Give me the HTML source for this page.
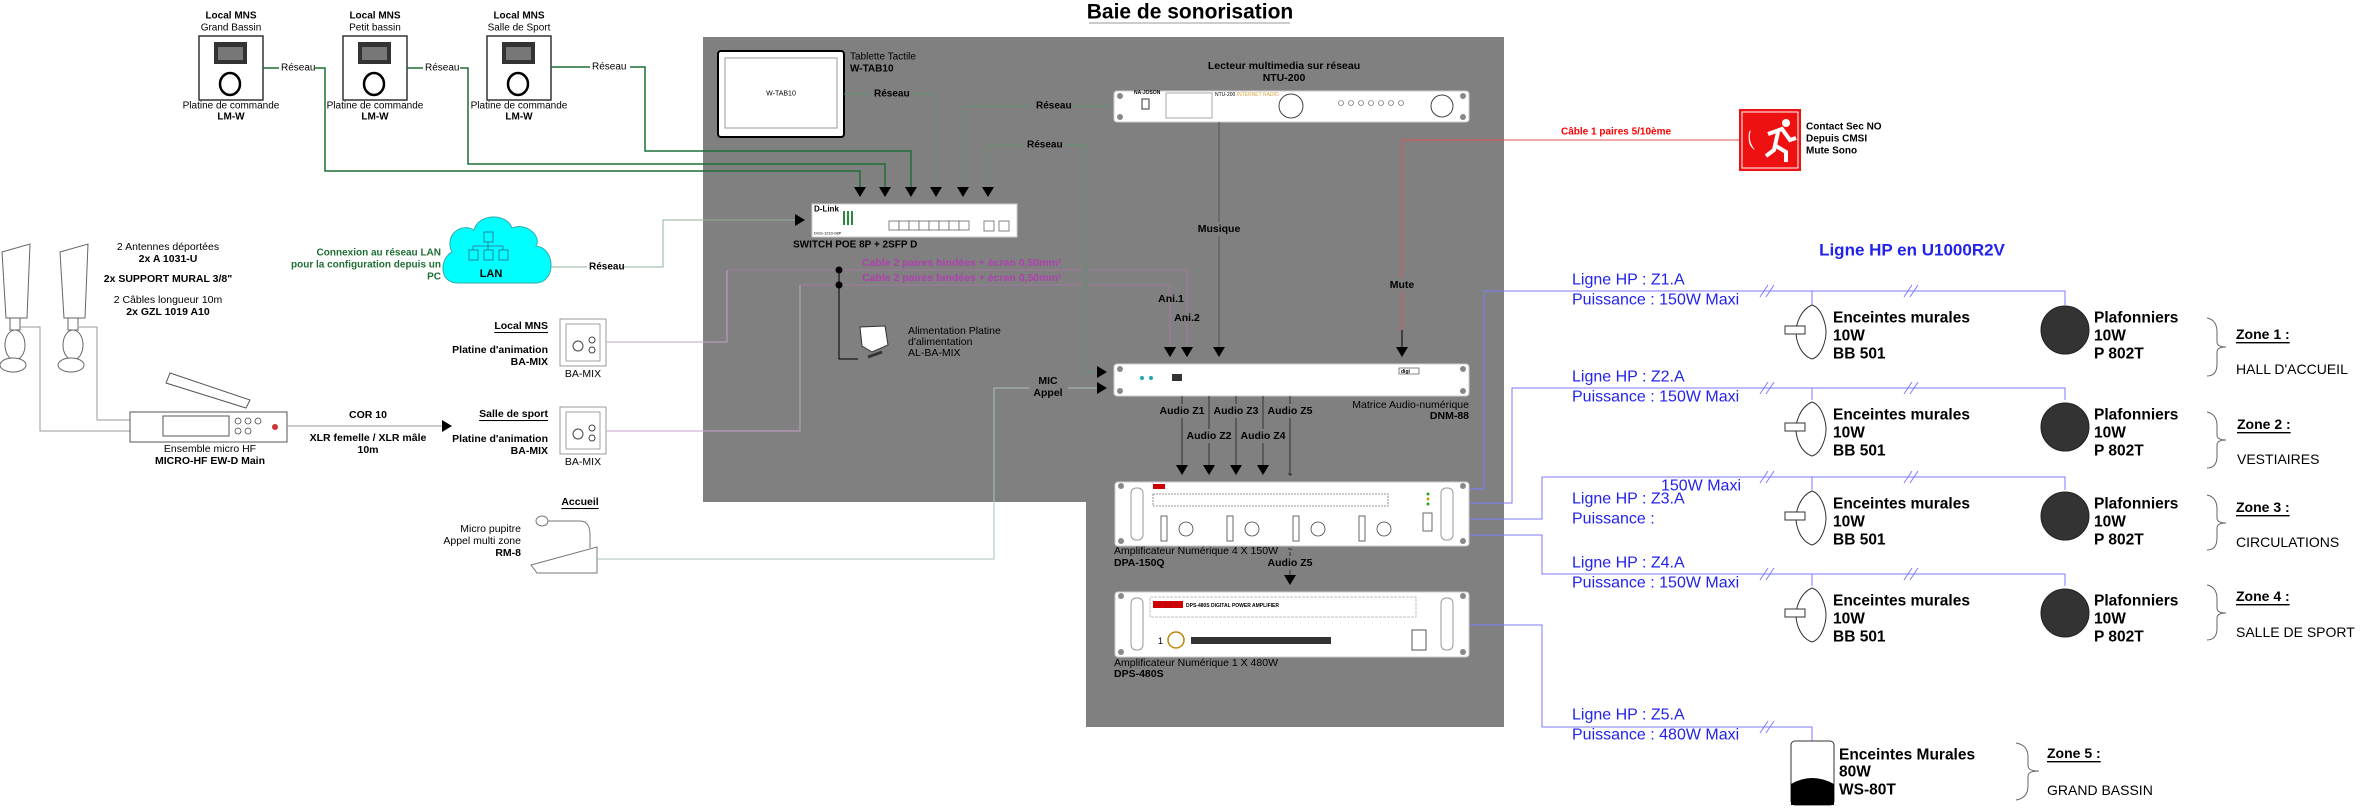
<!DOCTYPE html>
<html><head><meta charset="utf-8"><style>
html,body{margin:0;padding:0;background:#fff;}
svg{display:block;font-family:"Liberation Sans",Arial,sans-serif;}
</style></head><body>
<svg width="2367" height="808" viewBox="0 0 2367 808" xmlns="http://www.w3.org/2000/svg">
<defs>
<marker id="ar" markerWidth="10" markerHeight="16" refX="9" refY="8" orient="auto" markerUnits="userSpaceOnUse"><path d="M0,2 L10,8 L0,14 Z" fill="#000"/></marker>
</defs>
<!-- panel -->
<path d="M703,37 H1504 V727 H1086 V502 H703 Z" fill="#808080"/>
<!-- title -->
<text x="1190" y="12" font-size="21" font-weight="bold" text-anchor="middle" dominant-baseline="central">Baie de sonorisation</text>
<line x1="1089" y1="23" x2="1290" y2="23" stroke="#999" stroke-width="1"/>

<!-- LM-W boxes -->
<g font-size="10" text-anchor="middle" dominant-baseline="central">
<g>
<text x="231" y="16" font-weight="bold">Local MNS</text><text x="231" y="28">Grand Bassin</text>
<rect x="199" y="36" width="64" height="64" fill="#fff" stroke="#333" stroke-width="1.5"/>
<rect x="214" y="42" width="33" height="22" fill="#333"/><rect x="218" y="47" width="25" height="13" fill="#777"/>
<ellipse cx="230" cy="84" rx="10" ry="11" fill="none" stroke="#000" stroke-width="2.5"/>
<text x="231" y="106">Platine de commande</text><text x="231" y="117" font-weight="bold">LM-W</text>
</g>
<g>
<text x="375" y="16" font-weight="bold">Local MNS</text><text x="375" y="28">Petit bassin</text>
<rect x="343" y="36" width="64" height="64" fill="#fff" stroke="#333" stroke-width="1.5"/>
<rect x="358" y="42" width="33" height="22" fill="#333"/><rect x="362" y="47" width="25" height="13" fill="#777"/>
<ellipse cx="374" cy="84" rx="10" ry="11" fill="none" stroke="#000" stroke-width="2.5"/>
<text x="375" y="106">Platine de commande</text><text x="375" y="117" font-weight="bold">LM-W</text>
</g>
<g>
<text x="519" y="16" font-weight="bold">Local MNS</text><text x="519" y="28">Salle de Sport</text>
<rect x="487" y="36" width="64" height="64" fill="#fff" stroke="#333" stroke-width="1.5"/>
<rect x="502" y="42" width="33" height="22" fill="#333"/><rect x="506" y="47" width="25" height="13" fill="#777"/>
<ellipse cx="518" cy="84" rx="10" ry="11" fill="none" stroke="#000" stroke-width="2.5"/>
<text x="519" y="106">Platine de commande</text><text x="519" y="117" font-weight="bold">LM-W</text>
</g>
</g>
<!-- green network lines from LM-W -->
<g fill="none" stroke="#1f6e35" stroke-width="1.5">
<path d="M263,68 H279 M315,68 H325 V171 H860 V196" marker-end="url(#ar)"/>
<path d="M407,68 H423 M460,68 H468 V164 H885 V196" marker-end="url(#ar)"/>
<path d="M551,67 H590 M630,67 H645 V151 H911 V196" marker-end="url(#ar)"/>
</g>
<g font-size="10" dominant-baseline="central"><text x="281" y="68">Réseau</text><text x="425" y="68">Réseau</text><text x="592" y="67">Réseau</text></g>

<!-- tablet -->
<rect x="718" y="51" width="126" height="86" rx="3" fill="#fff" stroke="#000" stroke-width="2"/>
<rect x="725" y="58" width="112" height="70" fill="#fff" stroke="#999"/>
<text x="781" y="94" font-size="7" text-anchor="middle" dominant-baseline="central">W-TAB10</text>
<text x="850" y="57" font-size="10" dominant-baseline="central">Tablette Tactile</text>
<text x="850" y="69" font-size="10" font-weight="bold" dominant-baseline="central">W-TAB10</text>

<!-- inner network lines -->
<g fill="none" stroke="#5f8f6f" stroke-width="1">
<path d="M844,94 H872 M910,94 H936 V196" marker-end="url(#ar)"/>
<path d="M1114,106 H1073 M1034,106 H963 V196" marker-end="url(#ar)"/>
<path d="M988,196 V145 H1025 M1062,145 H1085 V372 H1106" marker-end="url(#ar)"/>
<path d="M551,267 H587 M624,267 H663 V220 H804" marker-end="url(#ar)" stroke="#8fb09a"/>
</g>
<path d="M988,145 V196" stroke="#5f8f6f" marker-end="url(#ar)"/>
<g font-size="10" font-weight="bold" dominant-baseline="central">
<text x="874" y="94">Réseau</text><text x="1036" y="106">Réseau</text><text x="1027" y="145">Réseau</text>
</g>
<text x="589" y="267" font-size="10" font-weight="bold" dominant-baseline="central">Réseau</text>

<!-- switch -->
<rect x="812" y="204" width="205" height="33" fill="#fff" stroke="#ccc"/>
<text x="814" y="209" font-size="8" font-weight="bold" dominant-baseline="central">D-Link</text>
<text x="814" y="233" font-size="4" dominant-baseline="central">DGS-1210-08P</text>
<g fill="#2a8a3a"><rect x="843" y="211" width="2" height="14"/><rect x="847" y="211" width="2" height="14"/><rect x="851" y="211" width="2" height="14"/></g>
<g fill="#fff" stroke="#666" stroke-width="0.8">
<rect x="889" y="221" width="10" height="9"/><rect x="899" y="221" width="10" height="9"/><rect x="909" y="221" width="10" height="9"/><rect x="919" y="221" width="10" height="9"/><rect x="929" y="221" width="10" height="9"/><rect x="939" y="221" width="10" height="9"/><rect x="949" y="221" width="10" height="9"/><rect x="959" y="221" width="10" height="9"/>
<rect x="984" y="221" width="10" height="10"/><rect x="999" y="221" width="10" height="10"/>
</g>
<text x="793" y="245" font-size="10" font-weight="bold" dominant-baseline="central">SWITCH POE 8P + 2SFP D</text>

<!-- cloud LAN -->
<path d="M458,283 C438,283 440,258 452,252 C444,236 460,222 474,230 C478,214 506,212 512,228 C526,222 542,236 536,246 C556,248 556,283 536,283 Z" fill="#00ffff" stroke="#3aa" stroke-width="1"/>
<g fill="none" stroke="#368" stroke-width="0.8"><rect x="484" y="232" width="9" height="10"/><path d="M488,242 V246 M473,246 H503 M473,246 V250 M488,246 V250 M503,246 V250"/><rect x="469" y="250" width="9" height="10"/><rect x="484" y="250" width="9" height="10"/><rect x="499" y="250" width="9" height="10"/></g>
<text x="491" y="274" font-size="11" font-weight="bold" text-anchor="middle" dominant-baseline="central">LAN</text>
<g font-size="10" font-weight="bold" fill="#1f6e35" text-anchor="end" dominant-baseline="central">
<text x="441" y="253">Connexion au réseau LAN</text><text x="441" y="265">pour la configuration depuis un</text><text x="441" y="277">PC</text>
</g>

<!-- antennas text -->
<g font-size="10.5" text-anchor="middle" dominant-baseline="central">
<text x="168" y="247">2 Antennes déportées</text><text x="168" y="259" font-weight="bold">2x A 1031-U</text>
<text x="168" y="279" font-weight="bold">2x SUPPORT MURAL 3/8"</text>
<text x="168" y="300">2 Câbles longueur 10m</text><text x="168" y="312" font-weight="bold">2x GZL 1019 A10</text>
</g>
<!-- antennas -->
<g fill="#fff" stroke="#666" stroke-width="1">
<path d="M2,252 L30,244 L27,318 L6,318 Z"/><path d="M60,252 L88,244 L85,318 L64,318 Z"/>
<ellipse cx="15" cy="345" rx="10" ry="15"/><ellipse cx="73" cy="345" rx="10" ry="15"/>
<ellipse cx="13" cy="365" rx="13" ry="7"/><ellipse cx="71" cy="365" rx="13" ry="7"/>
<rect x="10" y="318" width="10" height="12"/><rect x="68" y="318" width="10" height="12"/>
</g>
<g fill="none" stroke="#999" stroke-width="1"><path d="M20,327 H40 V431 H130"/><path d="M79,327 H97 V420 H130"/></g>
<!-- receiver -->
<rect x="130" y="412" width="157" height="30" fill="#fff" stroke="#555"/>
<rect x="163" y="416" width="66" height="20" fill="#fff" stroke="#555"/>
<g fill="none" stroke="#444" stroke-width="0.8"><circle cx="238" cy="421" r="3"/><circle cx="248" cy="421" r="3"/><circle cx="258" cy="421" r="3"/><circle cx="238" cy="431" r="3"/><circle cx="248" cy="431" r="3"/></g>
<circle cx="275" cy="427" r="3" fill="#c33"/>
<path d="M170,373 L250,400 L246,408 L166,383 Z" fill="#fff" stroke="#555"/>
<g font-size="10.5" text-anchor="middle" dominant-baseline="central"><text x="210" y="449">Ensemble micro HF</text><text x="210" y="461" font-weight="bold">MICRO-HF EW-D Main</text></g>
<!-- COR 10 -->
<path d="M287,426 H451" stroke="#999" fill="none" marker-end="url(#ar)"/>
<g font-size="10.5" text-anchor="middle" dominant-baseline="central"><text x="368" y="415" font-weight="bold">COR 10</text><text x="368" y="438" font-weight="bold">XLR femelle / XLR mâle</text><text x="368" y="450" font-weight="bold">10m</text></g>

<!-- BA-MIX -->
<g>
<rect x="560" y="319" width="46" height="47" fill="#fff" stroke="#999"/>
<rect x="566" y="324" width="34" height="37" fill="#fff" stroke="#666" stroke-width="0.6"/>
<circle cx="578" cy="346" r="5" fill="none" stroke="#444"/><circle cx="592" cy="340" r="3" fill="none" stroke="#444"/><circle cx="592" cy="350" r="3" fill="none" stroke="#444"/>
<rect x="560" y="407" width="46" height="47" fill="#fff" stroke="#999"/>
<rect x="566" y="412" width="34" height="37" fill="#fff" stroke="#666" stroke-width="0.6"/>
<circle cx="578" cy="434" r="5" fill="none" stroke="#444"/><circle cx="592" cy="428" r="3" fill="none" stroke="#444"/><circle cx="592" cy="438" r="3" fill="none" stroke="#444"/>
</g>
<g font-size="10.5" dominant-baseline="central">
<text x="583" y="374" text-anchor="middle">BA-MIX</text><text x="583" y="462" text-anchor="middle">BA-MIX</text>
<g text-anchor="end" font-weight="bold">
<text x="548" y="326" text-decoration="underline">Local MNS</text><text x="548" y="350">Platine d'animation</text><text x="548" y="362">BA-MIX</text>
<text x="548" y="414" text-decoration="underline">Salle de sport</text><text x="548" y="439">Platine d'animation</text><text x="548" y="451">BA-MIX</text>
</g>
</g>
<!-- pink lines -->
<g fill="none" stroke="#c9a0c9" stroke-width="1"><path d="M606,342 H727 V270"/><path d="M606,431 H800 V285"/></g>
<g fill="none" stroke="#a07aa0" stroke-width="1">
<path d="M727,270 H1082 M1090,270 H1187 V356" marker-end="url(#ar)"/>
<path d="M800,285 H1082 M1090,285 H1170 V356" marker-end="url(#ar)"/>
</g>
<path d="M1187,330 V356" stroke="#a07aa0" marker-end="url(#ar)"/>
<path d="M1170,310 V356" stroke="#a07aa0" marker-end="url(#ar)"/>
<circle cx="839" cy="270" r="3.5" fill="#000"/><circle cx="839" cy="285" r="3.5" fill="#000"/>
<path d="M839,270 V359 H858" stroke="#000" fill="none" stroke-width="1"/>
<g font-size="10.5" font-weight="bold" fill="#b040b0" dominant-baseline="central"><text x="862" y="263">Cable 2 paires bindées + écran 0,50mm²</text><text x="862" y="278">Cable 2 paires bindées + écran 0,50mm²</text></g>
<!-- power supply -->
<path d="M860,327 L885,326 L888,345 L872,352 L862,346 Z" fill="#fff" stroke="#333"/>
<path d="M868,357 L882,352" stroke="#333" stroke-width="3"/>
<g font-size="10.5" dominant-baseline="central"><text x="908" y="331">Alimentation Platine</text><text x="908" y="342">d'alimentation</text><text x="908" y="353">AL-BA-MIX</text></g>
<g font-size="10.5" font-weight="bold" text-anchor="middle" dominant-baseline="central"><text x="1171" y="299">Ani.1</text><text x="1187" y="318">Ani.2</text></g>

<!-- RM-8 -->
<text x="580" y="502" font-size="10.5" font-weight="bold" text-anchor="middle" dominant-baseline="central" text-decoration="underline">Accueil</text>
<g font-size="10.5" text-anchor="end" dominant-baseline="central"><text x="521" y="529">Micro pupitre</text><text x="521" y="541">Appel multi zone</text><text x="521" y="553" font-weight="bold">RM-8</text></g>
<ellipse cx="542" cy="521" rx="6" ry="5" fill="#fff" stroke="#777"/>
<path d="M548,521 H580 Q590,521 590,535 V548 M531,565 L597,547 L597,573 L537,573 Z" fill="none" stroke="#777"/>
<path d="M597,559 H994 V388 H1029 M1068,388 H1106" fill="none" stroke="#a9c3b4" marker-end="url(#ar)"/>
<g font-size="10.5" font-weight="bold" text-anchor="middle" dominant-baseline="central"><text x="1048" y="381">MIC</text><text x="1048" y="393">Appel</text></g>

<!-- NTU-200 -->
<g font-size="10.5" font-weight="bold" text-anchor="middle" dominant-baseline="central"><text x="1284" y="66">Lecteur multimedia sur réseau</text><text x="1284" y="78">NTU-200</text></g>
<rect x="1114" y="91" width="355" height="31" rx="3" fill="#fff" stroke="#ccc"/>
<g fill="#888"><circle cx="1120" cy="96" r="3"/><circle cx="1120" cy="117" r="3"/><circle cx="1463" cy="96" r="3"/><circle cx="1463" cy="117" r="3"/></g>
<text x="1134" y="94" font-size="5" font-weight="bold">NA-JOSON</text>
<rect x="1142" y="99" width="7" height="10" fill="none" stroke="#333"/>
<rect x="1166" y="93" width="46" height="25" fill="none" stroke="#aaa"/>
<text x="1215" y="96" font-size="5">NTU-200 <tspan fill="#d9a040">INTERNET RADIO</tspan></text>
<circle cx="1291" cy="106" r="12" fill="none" stroke="#444"/>
<circle cx="1442" cy="106" r="11" fill="none" stroke="#444"/>
<g fill="none" stroke="#555" stroke-width="0.6"><circle cx="1341" cy="103" r="2.5"/><circle cx="1351" cy="103" r="2.5"/><circle cx="1361" cy="103" r="2.5"/><circle cx="1371" cy="103" r="2.5"/><circle cx="1381" cy="103" r="2.5"/><circle cx="1391" cy="103" r="2.5"/><circle cx="1401" cy="103" r="2.5"/></g>
<!-- Musique -->
<path d="M1219,122 V356" stroke="#555" fill="none" marker-end="url(#ar)"/>
<rect x="1198" y="222" width="44" height="14" fill="#808080"/>
<text x="1219" y="229" font-size="10.5" font-weight="bold" text-anchor="middle" dominant-baseline="central">Musique</text>

<!-- Mute / red -->
<path d="M1739,140 H1402 V356" stroke="#e05050" fill="none" stroke-width="1"/>
<path d="M1402,330 V356" stroke="#000" marker-end="url(#ar)"/>
<rect x="1385" y="278" width="34" height="14" fill="#808080"/>
<text x="1402" y="285" font-size="10.5" font-weight="bold" text-anchor="middle" dominant-baseline="central">Mute</text>
<rect x="1558" y="126" width="118" height="12" fill="#fff"/>
<text x="1561" y="132" font-size="10" font-weight="bold" fill="#ff0000" dominant-baseline="central">Câble 1 paires 5/10ème</text>
<rect x="1739" y="109" width="62" height="62" fill="#ee1111"/>
<rect x="1742" y="112" width="56" height="56" fill="none" stroke="#fff" stroke-width="1"/>
<circle cx="1786" cy="123" r="4" fill="#fff"/>
<path d="M1768,134 L1782,129 L1790,140 L1796,138 M1778,132 L1774,150 L1766,156 M1776,146 L1786,152 L1786,162" stroke="#fff" stroke-width="4" fill="none"/>
<path d="M1751,130 q-4,10 4,20 q-8,-4 -6,-18 z" fill="#fff"/>
<g font-size="10" font-weight="bold" dominant-baseline="central"><text x="1806" y="127">Contact Sec NO</text><text x="1806" y="139">Depuis CMSI</text><text x="1806" y="151">Mute Sono</text></g>

<!-- DNM-88 -->
<rect x="1114" y="364" width="355" height="32" rx="3" fill="#fff" stroke="#ccc"/>
<g fill="#888"><circle cx="1120" cy="369" r="3"/><circle cx="1120" cy="391" r="3"/><circle cx="1463" cy="369" r="3"/><circle cx="1463" cy="391" r="3"/></g>
<circle cx="1142" cy="378" r="2" fill="#2aa"/><circle cx="1151" cy="378" r="2" fill="#2aa"/>
<rect x="1172" y="374" width="10" height="7" fill="#333"/>
<rect x="1399" y="368" width="20" height="6" fill="#fff" stroke="#333" stroke-width="0.6"/><text x="1401" y="373" font-size="5" font-weight="bold">digi</text>
<g font-size="10.5" text-anchor="end" dominant-baseline="central"><text x="1469" y="405">Matrice Audio-numérique</text><text x="1469" y="416" font-weight="bold">DNM-88</text></g>

<!-- audio lines -->
<g stroke="#333" fill="none">
<path d="M1182,396 V474" marker-end="url(#ar)"/><path d="M1209,396 V474" marker-end="url(#ar)"/><path d="M1236,396 V474" marker-end="url(#ar)"/><path d="M1263,396 V474" marker-end="url(#ar)"/>
<path d="M1290,396 V476"/><path d="M1290,552 V584" marker-end="url(#ar)"/>
</g>
<g font-size="10.5" font-weight="bold" text-anchor="middle" dominant-baseline="central">
<rect x="1162" y="404" width="40" height="14" fill="#808080"/><text x="1182" y="411">Audio Z1</text>
<rect x="1216" y="404" width="40" height="14" fill="#808080"/><text x="1236" y="411">Audio Z3</text>
<rect x="1270" y="404" width="40" height="14" fill="#808080"/><text x="1290" y="411">Audio Z5</text>
<rect x="1189" y="429" width="40" height="14" fill="#808080"/><text x="1209" y="436">Audio Z2</text>
<rect x="1243" y="429" width="40" height="14" fill="#808080"/><text x="1263" y="436">Audio Z4</text>
<rect x="1268" y="556" width="44" height="14" fill="#808080"/><text x="1290" y="563">Audio Z5</text>
</g>
<text x="1290" y="477" font-size="8" text-anchor="middle">~</text>

<!-- blue lines -->
<g fill="none" stroke="#7a7aff" stroke-width="1">
<path d="M1469,489 H1484 V291 H2065 V305"/>
<path d="M1469,503 H1512 V388 H2065 V400"/>
<path d="M1469,519 H1542 V477 H2065 V490"/>
<path d="M1469,535 H1542 V574 H2065 V586"/>
<path d="M1469,625 H1542 V727 H1812 V742"/>
<path d="M1812,291 V305 M1812,388 V400 M1812,477 V490 M1812,574 V586"/>
</g>
<g stroke="#7a7aff" stroke-width="1">
<path d="M1760,297 L1768,285 M1766,297 L1774,285 M1904,297 L1912,285 M1910,297 L1918,285"/>
<path d="M1760,394 L1768,382 M1766,394 L1774,382 M1904,394 L1912,382 M1910,394 L1918,382"/>
<path d="M1760,483 L1768,471 M1766,483 L1774,471 M1904,483 L1912,471 M1910,483 L1918,471"/>
<path d="M1760,580 L1768,568 M1766,580 L1774,568 M1904,580 L1912,568 M1910,580 L1918,568"/>
<path d="M1760,733 L1768,721 M1766,733 L1774,721"/>
</g>

<!-- amp1 -->
<rect x="1115" y="482" width="354" height="64" rx="3" fill="#fff" stroke="#ccc"/>
<g fill="#888"><circle cx="1121" cy="486" r="3"/><circle cx="1121" cy="541" r="3"/><circle cx="1463" cy="486" r="3"/><circle cx="1463" cy="541" r="3"/></g>
<rect x="1131" y="488" width="12" height="52" rx="5" fill="none" stroke="#999"/><rect x="1441" y="488" width="12" height="52" rx="5" fill="none" stroke="#999"/>
<rect x="1153" y="484" width="12" height="5" fill="#c00"/>
<rect x="1153" y="494" width="235" height="12" fill="none" stroke="#777" stroke-width="0.8" stroke-dasharray="2,1"/>
<g fill="none" stroke="#444" stroke-width="0.8"><circle cx="1186" cy="529" r="7"/><circle cx="1252" cy="529" r="7"/><circle cx="1318" cy="529" r="7"/><circle cx="1384" cy="529" r="7"/>
<rect x="1161" y="516" width="6" height="25"/><rect x="1227" y="516" width="6" height="25"/><rect x="1293" y="516" width="6" height="25"/><rect x="1359" y="516" width="6" height="25"/>
<rect x="1423" y="513" width="9" height="18"/></g>
<g fill="#2a2"><circle cx="1428" cy="494" r="1.5"/><circle cx="1428" cy="504" r="1.5"/></g><circle cx="1428" cy="499" r="1.5" fill="#c90"/>
<g font-size="10.5" dominant-baseline="central"><text x="1114" y="551">Amplificateur Numérique 4 X 150W</text><text x="1114" y="563" font-weight="bold">DPA-150Q</text></g>
<text x="1290" y="552" font-size="8" text-anchor="middle">~</text>

<!-- amp2 -->
<rect x="1115" y="592" width="354" height="65" rx="3" fill="#fff" stroke="#ccc"/>
<g fill="#888"><circle cx="1121" cy="596" r="3"/><circle cx="1121" cy="652" r="3"/><circle cx="1463" cy="596" r="3"/><circle cx="1463" cy="652" r="3"/></g>
<rect x="1131" y="598" width="12" height="52" rx="5" fill="none" stroke="#999"/><rect x="1441" y="598" width="12" height="52" rx="5" fill="none" stroke="#999"/>
<rect x="1150" y="597" width="266" height="20" fill="none" stroke="#aaa" stroke-width="0.8" stroke-dasharray="3,1"/>
<rect x="1153" y="601" width="30" height="7" fill="#c00"/><text x="1186" y="607" font-size="5" font-weight="bold">DPS-480S   DIGITAL POWER AMPLIFIER</text>
<rect x="1191" y="637" width="140" height="7" fill="#333"/>
<circle cx="1176" cy="640" r="8" fill="none" stroke="#b8860b" stroke-width="1.5"/>
<text x="1158" y="641" font-size="9" dominant-baseline="central">1</text>
<rect x="1412" y="630" width="14" height="20" fill="none" stroke="#555"/>
<g font-size="10.5" dominant-baseline="central"><text x="1114" y="663">Amplificateur Numérique 1 X 480W</text><text x="1114" y="674" font-weight="bold">DPS-480S</text></g>

<!-- speaker section -->
<text x="1912" y="250" font-size="17" font-weight="bold" fill="#2222ee" text-anchor="middle" dominant-baseline="central">Ligne HP en U1000R2V</text>
<g font-size="16" fill="#2222ee" dominant-baseline="central">
<text x="1572" y="280">Ligne HP : Z1.A</text><text x="1572" y="300">Puissance : 150W Maxi</text>
<text x="1572" y="377">Ligne HP : Z2.A</text><text x="1572" y="397">Puissance : 150W Maxi</text>
<text x="1741" y="486" text-anchor="end">150W Maxi</text><text x="1572" y="499">Ligne HP : Z3.A</text><text x="1572" y="519">Puissance :</text>
<text x="1572" y="563">Ligne HP : Z4.A</text><text x="1572" y="583">Puissance : 150W Maxi</text>
<text x="1572" y="715">Ligne HP : Z5.A</text><text x="1572" y="735">Puissance : 480W Maxi</text>
</g>

<!-- speaker icons and labels -->
<g id="row">
</g>
<g fill="#fff" stroke="#333" stroke-width="1">
<path d="M1812,305 C1800,310 1796,325 1796,332 C1796,340 1800,355 1812,359 C1822,356 1826,340 1826,332 C1826,325 1822,308 1812,305 Z"/><rect x="1785" y="326" width="20" height="8"/>
<path d="M1812,402 C1800,407 1796,422 1796,429 C1796,437 1800,452 1812,456 C1822,453 1826,437 1826,429 C1826,422 1822,405 1812,402 Z"/><rect x="1785" y="423" width="20" height="8"/>
<path d="M1812,491 C1800,496 1796,511 1796,518 C1796,526 1800,541 1812,545 C1822,542 1826,526 1826,518 C1826,511 1822,494 1812,491 Z"/><rect x="1785" y="512" width="20" height="8"/>
<path d="M1812,588 C1800,593 1796,608 1796,615 C1796,623 1800,638 1812,642 C1822,639 1826,623 1826,615 C1826,608 1822,591 1812,588 Z"/><rect x="1785" y="609" width="20" height="8"/>
</g>
<g fill="#333" stroke="#222">
<circle cx="2065" cy="330" r="24"/><circle cx="2065" cy="427" r="24"/><circle cx="2065" cy="516" r="24"/><circle cx="2065" cy="613" r="24"/>
</g>
<g font-size="15.5" font-weight="bold" dominant-baseline="central">
<text x="1833" y="318">Enceintes murales</text><text x="1833" y="336">10W</text><text x="1833" y="354">BB 501</text>
<text x="1833" y="415">Enceintes murales</text><text x="1833" y="433">10W</text><text x="1833" y="451">BB 501</text>
<text x="1833" y="504">Enceintes murales</text><text x="1833" y="522">10W</text><text x="1833" y="540">BB 501</text>
<text x="1833" y="601">Enceintes murales</text><text x="1833" y="619">10W</text><text x="1833" y="637">BB 501</text>
<text x="2094" y="318">Plafonniers</text><text x="2094" y="336">10W</text><text x="2094" y="354">P 802T</text>
<text x="2094" y="415">Plafonniers</text><text x="2094" y="433">10W</text><text x="2094" y="451">P 802T</text>
<text x="2094" y="504">Plafonniers</text><text x="2094" y="522">10W</text><text x="2094" y="540">P 802T</text>
<text x="2094" y="601">Plafonniers</text><text x="2094" y="619">10W</text><text x="2094" y="637">P 802T</text>
<text x="1839" y="755">Enceintes Murales</text><text x="1839" y="772">80W</text><text x="1839" y="790">WS-80T</text>
</g>
<!-- WS-80T -->
<rect x="1791" y="741" width="43" height="64" rx="4" fill="#fff" stroke="#333"/>
<path d="M1791,784 Q1812,772 1834,784 V805 H1791 Z" fill="#000"/>
<!-- braces -->
<g fill="none" stroke="#666" stroke-width="1">
<path d="M2207,318 Q2217,320 2217,332 V342 Q2217,347 2226,347 Q2217,347 2217,352 V364 Q2217,376 2207,376"/>
<path d="M2207,412 Q2217,414 2217,426 V435 Q2217,440 2226,440 Q2217,440 2217,445 V456 Q2217,468 2207,468"/>
<path d="M2207,495 Q2217,497 2217,509 V518 Q2217,523 2226,523 Q2217,523 2217,528 V538 Q2217,550 2207,550"/>
<path d="M2207,585 Q2217,587 2217,599 V608 Q2217,613 2226,613 Q2217,613 2217,618 V628 Q2217,640 2207,640"/>
<path d="M2016,743 Q2028,745 2028,757 V766 Q2028,771 2039,771 Q2028,771 2028,776 V786 Q2028,798 2016,800"/>
</g>
<g font-size="14" dominant-baseline="central">
<text x="2236" y="334" font-weight="bold" text-decoration="underline">Zone 1 :</text><text x="2236" y="369">HALL D'ACCUEIL</text>
<text x="2237" y="424" font-weight="bold" text-decoration="underline">Zone 2 :</text><text x="2237" y="459">VESTIAIRES</text>
<text x="2236" y="507" font-weight="bold" text-decoration="underline">Zone 3 :</text><text x="2236" y="542">CIRCULATIONS</text>
<text x="2236" y="596" font-weight="bold" text-decoration="underline">Zone 4 :</text><text x="2236" y="632">SALLE DE SPORT</text>
<text x="2047" y="753" font-weight="bold" text-decoration="underline">Zone 5 :</text><text x="2047" y="790">GRAND BASSIN</text>
</g>
</svg>
</body></html>
